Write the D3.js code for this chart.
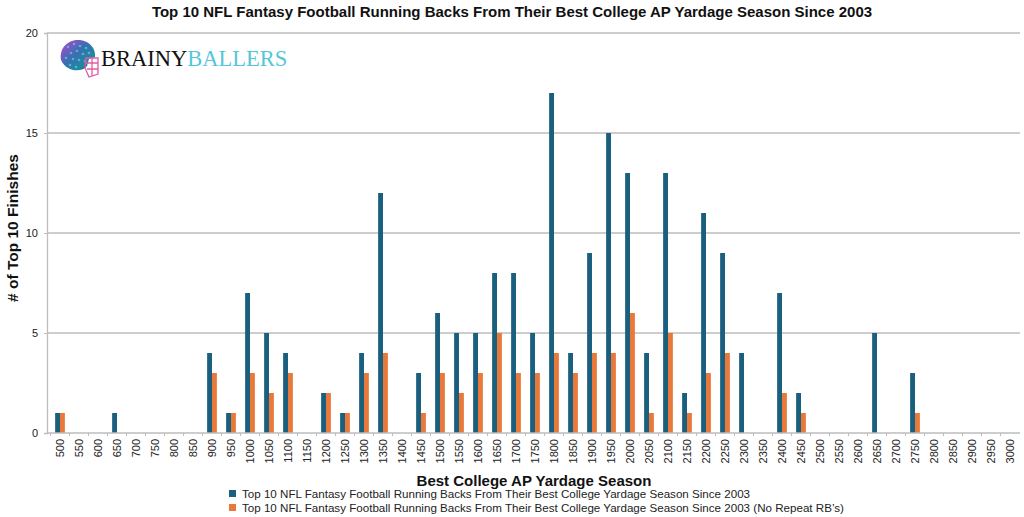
<!DOCTYPE html>
<html><head><meta charset="utf-8">
<script src="https://cdn.jsdelivr.net/npm/d3@7"></script>
<style>body{margin:0;background:#fff}svg{display:block;font-family:"Liberation Sans",Arial,sans-serif}</style>
</head><body><svg id="c" width="1024" height="517"></svg>
<script>
const categories = [500,550,600,650,700,750,800,850,900,950,1000,1050,1100,1150,1200,1250,1300,1350,1400,1450,1500,1550,1600,1650,1700,1750,1800,1850,1900,1950,2000,2050,2100,2150,2200,2250,2300,2350,2400,2450,2500,2550,2600,2650,2700,2750,2800,2850,2900,2950,3000];
const allFinishes = [1,0,0,1,0,0,0,0,4,1,7,5,4,0,2,1,4,12,0,3,6,5,5,8,8,5,17,4,9,15,13,4,13,2,11,9,4,0,7,2,0,0,0,5,0,3,0,0,0,0,0];
const noRepeat   = [1,0,0,0,0,0,0,0,3,1,3,2,3,0,2,1,3,4,0,1,3,2,3,5,3,3,4,3,4,4,6,1,5,1,3,4,0,0,2,1,0,0,0,0,0,1,0,0,0,0,0];
const yTicks = [0,5,10,15,20];
const seriesNames = ["Top 10 NFL Fantasy Football Running Backs From Their Best College Yardage Season Since 2003",
  "Top 10 NFL Fantasy Football Running Backs From Their Best College Yardage Season Since 2003 (No Repeat RB\u2019s)"];
const colors = ["#1b5f7e","#e9793a"];

const svg = d3.select("#c");
const m = {l:47, r:1020, t:33, b:433};
const x = d3.scaleBand().domain(categories).range([50.5, 1019.5]).paddingInner(0).paddingOuter(0);
const y = d3.scaleLinear().domain([0,20]).range([m.b, m.t]);
const xs = d3.scaleBand().domain([0,1]).range([0, x.bandwidth()]).paddingInner(0).paddingOuter(0.95);

// gridlines
svg.append("g").selectAll("line").data(yTicks.filter(d=>d>0)).join("line")
  .attr("x1", m.l).attr("x2", m.r).attr("y1", d=>y(d)).attr("y2", d=>y(d))
  .attr("stroke", "#bdbdbd").attr("stroke-width", 1.3);

// y axis
const ya = svg.append("g").attr("transform", `translate(${m.l},0)`)
  .call(d3.axisLeft(y).tickValues(yTicks).tickSize(3).tickPadding(6));
ya.select(".domain").attr("stroke", "#bdbdbd").attr("stroke-width",1.3);
ya.selectAll(".tick line").attr("stroke", "#bdbdbd");
ya.selectAll("text").attr("font-size", 11).attr("fill", "#222");

// bars
const data = categories.map((c,i)=>({c, v:[allFinishes[i], noRepeat[i]]}));
const g = svg.append("g");
data.forEach(d=>{
  d.v.forEach((v,k)=>{
    if(v>0) g.append("rect")
      .attr("x", x(d.c) + xs(k) ).attr("width", xs.bandwidth())
      .attr("y", y(v)).attr("height", y(0)-y(v)).attr("fill", colors[k]);
  });
});

// x axis
const xa = svg.append("g").attr("transform", `translate(0,${m.b})`)
  .call(d3.axisBottom(x).tickSize(0).tickPadding(6));
xa.select(".domain").attr("d", `M${m.l},0H${m.r}`).attr("stroke", "#bdbdbd").attr("stroke-width",1.3);
xa.selectAll("text").attr("font-size", 11).attr("fill", "#222")
  .attr("transform","rotate(-90)").attr("text-anchor","end").attr("dx","-6px").attr("dy","0.35em").attr("x",0).attr("y",0);
// separator ticks between categories
svg.append("g").selectAll("line").data(categories).join("line")
  .attr("x1", d=>x(d)).attr("x2", d=>x(d)).attr("y1", m.b).attr("y2", m.b+3)
  .attr("stroke", "#bdbdbd");

// titles
svg.append("text").attr("x", 512).attr("y", 17).attr("text-anchor","middle")
  .attr("font-size", 15).attr("font-weight","bold").attr("fill","#111")
  .text("Top 10 NFL Fantasy Football Running Backs From Their Best College AP Yardage Season Since 2003");
svg.append("text").attr("transform","translate(18,228) rotate(-90)").attr("text-anchor","middle")
  .attr("font-size", 15.5).attr("font-weight","bold").attr("fill","#111").text("# of Top 10 Finishes");
svg.append("text").attr("x", 534).attr("y", 486).attr("text-anchor","middle")
  .attr("font-size", 15).attr("font-weight","bold").attr("fill","#111").text("Best College AP Yardage Season");

// legend
seriesNames.forEach((n,i)=>{
  const ly = 494 + i*14;
  svg.append("rect").attr("x", 229).attr("y", ly-4).attr("width", 7).attr("height", 7).attr("fill", colors[i]);
  svg.append("text").attr("x", 242).attr("y", ly+4).attr("font-size", 11.6).attr("fill","#222").text(n);
});

// logo
const defs = svg.append("defs");
const grad = defs.append("linearGradient").attr("id","hg").attr("x1","0").attr("y1","0").attr("x2","1").attr("y2","1");
grad.append("stop").attr("offset","0").attr("stop-color","#c040d8");
grad.append("stop").attr("offset","0.45").attr("stop-color","#3a6fb0");
grad.append("stop").attr("offset","0.75").attr("stop-color","#1d8aa0");
grad.append("stop").attr("offset","1").attr("stop-color","#1a2238");
const lg = svg.append("g");
lg.append("path").attr("d","M61,60 C59,46 70,39 80,40 C90,41 96,49 95,57 L89,59 L87,66 C82,73 66,72 61,60 Z").attr("fill","url(#hg)");
// speckles
const speck = [[68,47],[74,44],[80,46],[86,48],[71,53],[77,51],[83,54],[89,53],[66,58],[73,59],[79,60],[85,61],[70,65],[76,67]];
lg.selectAll("circle.s").data(speck).join("circle").attr("cx",d=>d[0]).attr("cy",d=>d[1]).attr("r",1.3).attr("fill","#56d0e0").attr("opacity",0.7);
lg.append("path").attr("d","M86,58 L98,58 L98,74 L89,77 L85,68 Z M86,63 H98 M87,69 H98 M92,58 V76").attr("fill","none").attr("stroke","#e35aa8").attr("stroke-width",1.3);
lg.append("text").attr("x",101).attr("y",66).attr("font-family","'Liberation Serif','DejaVu Serif',serif").attr("font-size",22.5).attr("fill","#111")
  .text("BRAINY").append("tspan").attr("fill","#55c6d8").text("BALLERS");
</script></body></html>
